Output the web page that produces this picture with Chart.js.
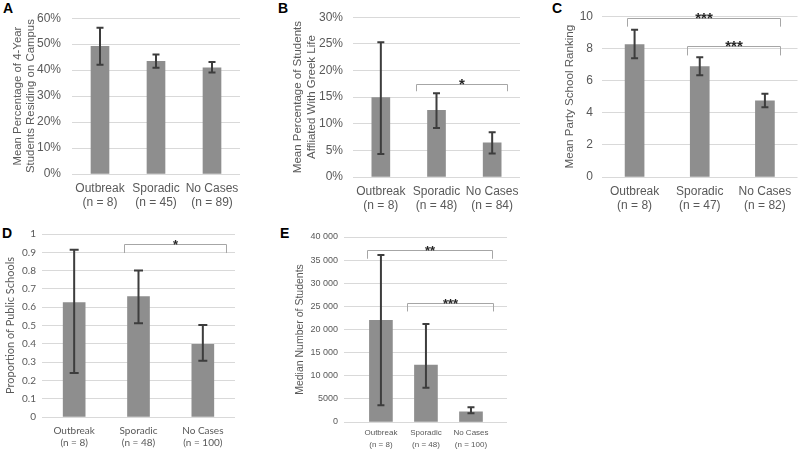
<!DOCTYPE html>
<html lang="en">
<head>
<meta charset="UTF-8">
<title>Campus outbreak comparisons</title>
<script src="https://cdn.jsdelivr.net/npm/chart.js"></script>
<style>
  body { margin: 0; width: 800px; height: 452px; background: #fff; position: relative; overflow: hidden;
         font-family: "Liberation Sans", Arial, sans-serif; }
  .tag { position: absolute; font-weight: bold; font-size: 14px; line-height: 14px; color: #000; }
  canvas { position: absolute; }
</style>
</head>
<body>
<div class="tag" style="left:3px;top:1px">A</div>
<div class="tag" style="left:278px;top:1px">B</div>
<div class="tag" style="left:552px;top:1px">C</div>
<div class="tag" style="left:2px;top:226px">D</div>
<div class="tag" style="left:280px;top:226px">E</div>

<canvas id="chartA" width="262" height="215" style="left:0;top:0"></canvas>
<canvas id="chartB" width="269" height="215" style="left:266px;top:0"></canvas>
<canvas id="chartC" width="265" height="215" style="left:535px;top:0"></canvas>
<canvas id="chartD" width="266" height="230" style="left:0;top:222px"></canvas>
<canvas id="chartE" width="265" height="230" style="left:270px;top:222px"></canvas>

<script>
// groups shared by every panel
var groups = ["Outbreak", "Sporadic", "No Cases"];

// A: % of 4-year students residing on campus
var nA = ["(n = 8)", "(n = 45)", "(n = 89)"];
var meanA = [49.2, 43.4, 40.9];
var lowA = [42.1, 40.9, 39.1];
var highA = [56.3, 46.0, 43.1];

// B: % of students affiliated with greek life
var nB = ["(n = 8)", "(n = 48)", "(n = 84)"];
var meanB = [14.9, 12.5, 6.4];
var lowB = [4.3, 9.2, 4.4];
var highB = [25.3, 15.7, 8.4];
var sigB = [[0.64, 2.27, 17.4, 16.1, "*"]];

// C: party school ranking
var nC = ["(n = 8)", "(n = 47)", "(n = 82)"];
var meanC = [8.23, 6.87, 4.74];
var lowC = [7.38, 6.33, 4.33];
var highC = [9.15, 7.45, 5.18];
var sigC = [[-0.12, 2.23, 9.9, 9.35, "***"], [0.8, 2.23, 8.17, 7.56, "***"]];

// D: proportion of public schools
var nD = ["(n = 8)", "(n = 48)", "(n = 100)"];
var meanD = [0.625, 0.658, 0.397];
var lowD = [0.24, 0.512, 0.307];
var highD = [0.914, 0.80, 0.503];
var sigD = [[0.77, 2.36, 0.947, 0.896, "*"]];

// E: median number of students
var nE = ["(n = 8)", "(n = 48)", "(n = 100)"];
var medianE = [22000, 12300, 2200];
var lowE = [3600, 7400, 1900];
var highE = [36100, 21200, 3200];
var sigE = [[-0.31, 2.47, 37100, 35300, "**"], [0.58, 2.49, 25800, 23900, "***"]];

var textGrey = "#595959";

function errorBars(low, high, cap) {
  return {
    id: "errorBars",
    afterDatasetsDraw: function(chart) {
      var ctx = chart.ctx, y = chart.scales.y;
      ctx.save();
      ctx.strokeStyle = "#3d3d3d";
      ctx.lineWidth = 2;
      chart.getDatasetMeta(0).data.forEach(function(bar, i) {
        var top = y.getPixelForValue(high[i]), bot = y.getPixelForValue(low[i]);
        ctx.beginPath();
        ctx.moveTo(bar.x, top); ctx.lineTo(bar.x, bot);
        ctx.moveTo(bar.x - cap, top); ctx.lineTo(bar.x + cap, top);
        ctx.moveTo(bar.x - cap, bot); ctx.lineTo(bar.x + cap, bot);
        ctx.stroke();
      });
      ctx.restore();
    }
  };
}

function brackets(list, fontSize) {
  return {
    id: "brackets",
    afterDatasetsDraw: function(chart) {
      var ctx = chart.ctx, xs = chart.scales.x, ys = chart.scales.y;
      ctx.save();
      ctx.strokeStyle = "#a6a6a6";
      ctx.lineWidth = 1;
      ctx.fillStyle = "#262626";
      ctx.font = "bold " + fontSize + "px 'Liberation Sans', Arial, sans-serif";
      ctx.textAlign = "center";
      ctx.textBaseline = "alphabetic";
      list.forEach(function(b) {
        var x0 = Math.round(xs.getPixelForValue(b[0])) + 0.5;
        var x1 = Math.round(xs.getPixelForValue(b[1])) + 0.5;
        var y0 = Math.round(ys.getPixelForValue(b[2])) + 0.5;
        var y1 = ys.getPixelForValue(b[3]);
        ctx.beginPath();
        ctx.moveTo(x0, y1); ctx.lineTo(x0, y0); ctx.lineTo(x1, y0); ctx.lineTo(x1, y1);
        ctx.stroke();
        ctx.fillText(b[4], (x0 + x1) / 2, y0 + 4);
      });
      ctx.restore();
    }
  };
}

function panel(id, p) {
  var family = p.family || "'Liberation Sans', Arial, sans-serif";
  return new Chart(document.getElementById(id), {
    type: "bar",
    data: {
      datasets: [{
        data: p.values.map(function(v, i) { return { x: i, y: v }; }),
        backgroundColor: "#8e8e8e",
        barThickness: p.barWidth
      }]
    },
    options: {
      responsive: false,
      animation: false,
      layout: { padding: p.pad },
      plugins: { legend: { display: false }, tooltip: { enabled: false } },
      scales: {
        x: {
          type: "linear",
          offset: false,
          min: p.xMin, max: p.xMax,
          grid: { display: false, drawTicks: false },
          border: { display: false },
          afterBuildTicks: function(s) { s.ticks = groups.map(function(g, i) { return { value: i }; }); },
          afterFit: function(s) { s.height = p.xHeight; },
          ticks: {
            autoSkip: false, maxRotation: 0, color: textGrey, padding: p.xPad,
            font: { family: family, size: p.xFont, lineHeight: p.xLine },
            callback: function(v) { return [groups[v], p.n[v]]; }
          }
        },
        y: {
          min: 0, max: p.yMax,
          grid: { color: "#d9d9d9", drawTicks: false },
          border: { display: false },
          afterFit: function(s) { s.width = p.yWidth; },
          ticks: {
            stepSize: p.step, color: textGrey, padding: p.yPad,
            font: { family: family, size: p.yFont },
            callback: p.fmt
          },
          title: {
            display: true, text: p.title, color: textGrey,
            font: { family: family, size: p.titleFont, lineHeight: p.titleLine },
            padding: { top: p.titlePad, bottom: 0 }
          }
        }
      }
    },
    plugins: [errorBars(p.low, p.high, p.cap)].concat(p.sig ? [brackets(p.sig, p.starFont)] : [])
  });
}

panel("chartA", {
  values: meanA, low: lowA, high: highA, n: nA, barWidth: 18, cap: 3.5,
  pad: { left: 4, right: 22, top: 12, bottom: 0 }, yWidth: 68, xHeight: 41,
  xMin: -0.5, xMax: 2.5, xFont: 12, xLine: 1.2, xPad: 7,
  yMax: 60, step: 10, yFont: 12, yPad: 11,
  fmt: function(v) { return v + "%"; },
  title: ["Mean Percentage of 4-Year", "Students Residing on Campus"], titleFont: 11.4, titleLine: 1.1, titlePad: 8,
});

panel("chartB", {
  values: meanB, low: lowB, high: highB, n: nB, barWidth: 18, cap: 3.5,
  pad: { left: 4, right: 15, top: 14, bottom: 0 }, yWidth: 83, xHeight: 38,
  xMin: -0.5, xMax: 2.5, xFont: 12, xLine: 1.2, xPad: 7,
  yMax: 30, step: 5, yFont: 12, yPad: 10,
  fmt: function(v) { return v + "%"; },
  title: ["Mean Percentage of Students", "Affliated With Greek Life"], titleFont: 11.5, titleLine: 1.2, titlePad: 21,
  sig: sigB, starFont: 15
});

panel("chartC", {
  values: meanC, low: lowC, high: highC, n: nC, barWidth: 19, cap: 3.5,
  pad: { left: 4, right: 2.5, top: 13, bottom: 0 }, yWidth: 63, xHeight: 38,
  xMin: -0.5, xMax: 2.5, xFont: 12, xLine: 1.2, xPad: 7,
  yMax: 10, step: 2, yFont: 12, yPad: 9,
  fmt: function(v) { return v; },
  title: "Mean Party School Ranking", titleFont: 11.6, titleLine: 1.2, titlePad: 24,
  sig: sigC, starFont: 15
});

panel("chartD", {
  values: meanD, low: lowD, high: highD, n: nD, barWidth: 22, cap: 4.5,
  family: "Lato, 'Open Sans', sans-serif",
  pad: { left: 2, right: 31, top: 12, bottom: 0 }, yWidth: 40, xHeight: 35,
  xMin: -0.5, xMax: 2.5, xFont: 10, xLine: 1.2, xPad: 8,
  yMax: 1, step: 0.1, yFont: 10, yPad: 6,
  fmt: function(v) { return String(Math.round(v * 10) / 10); },
  title: "Proportion of Public Schools", titleFont: 11, titleLine: 1.2, titlePad: 1.4,
  sig: sigD, starFont: 13
});

panel("chartE", {
  values: medianE, low: lowE, high: highE, n: nE, barWidth: 23, cap: 3.5,
  pad: { left: 2, right: 28, top: 15, bottom: 0 }, yWidth: 72, xHeight: 30,
  xMin: -0.82, xMax: 2.8, xFont: 8, xLine: 1.5, xPad: 5,
  yMax: 40000, step: 5000, yFont: 9, yPad: 6,
  fmt: function(v) { return v < 10000 ? String(v) : String(v).replace(/\B(?=(\d{3})+(?!\d))/g, " "); },
  title: "Median Number of Students", titleFont: 10.5, titleLine: 1.2, titlePad: 21.7,
  sig: sigE, starFont: 13
});
</script>
</body>
</html>
